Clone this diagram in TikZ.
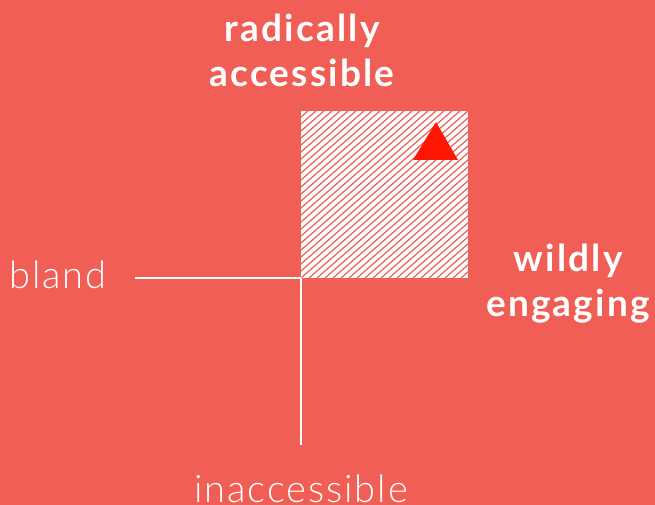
\documentclass[tikz,border=0pt]{standalone}
\usepackage{fontspec}
\setmainfont{Lato}[LetterSpace=6]
\newfontfamily\lightfont{Lato Light}[LetterSpace=5]
\definecolor{coral}{RGB}{240,94,85}
\definecolor{hotred}{RGB}{255,22,5}
\usepackage{tikz}
\usetikzlibrary{positioning,calc}

\begin{document}
\begin{tikzpicture}[
            x=1pt, y=-1pt,
            axis/.style={draw=white, line width=2.4pt},
            strong/.style={text=white, font=\fontsize{37}{45}\selectfont\bfseries, align=center},
            soft/.style={text=white, font=\lightfont\fontsize{38}{45}\selectfont, align=center},
            hatch/.style={draw=coral, line width=1.2pt}
        ]
            % background and frame
            \fill[coral] (0,0) rectangle (655,505);
            \useasboundingbox (0,0) rectangle (655,505);

            \coordinate (origin) at (301,278);
            \coordinate (west) at (135,278);
            \coordinate (south) at (301,445);
            \coordinate (corner) at (468,111);

            % Hatched quadrant
            \fill[white] (origin) rectangle (corner);
            \begin{scope}
                \clip (origin) rectangle (corner);
                \foreach \k in {0,8,...,376} {
                    \draw[hatch] (301+\k-200,278+0) -- ++(200,-175);
                }
            \end{scope}
            \fill[hotred] (413,160) -- (458,160) -- (436,122) -- cycle;

            \draw[axis] (west) -- (origin);
            \draw[axis] (origin) -- (south);

            % Add axis labels
            \node[strong] (top) at (302,50) {radically\\accessible};
            \node[soft] (left) at (58,275) {bland};
            \node[soft] (bottom) at (301,489) {inaccessible};
            \node[strong] (right) at (568,284) {wildly\\engaging};
        \end{tikzpicture}
\end{document}
